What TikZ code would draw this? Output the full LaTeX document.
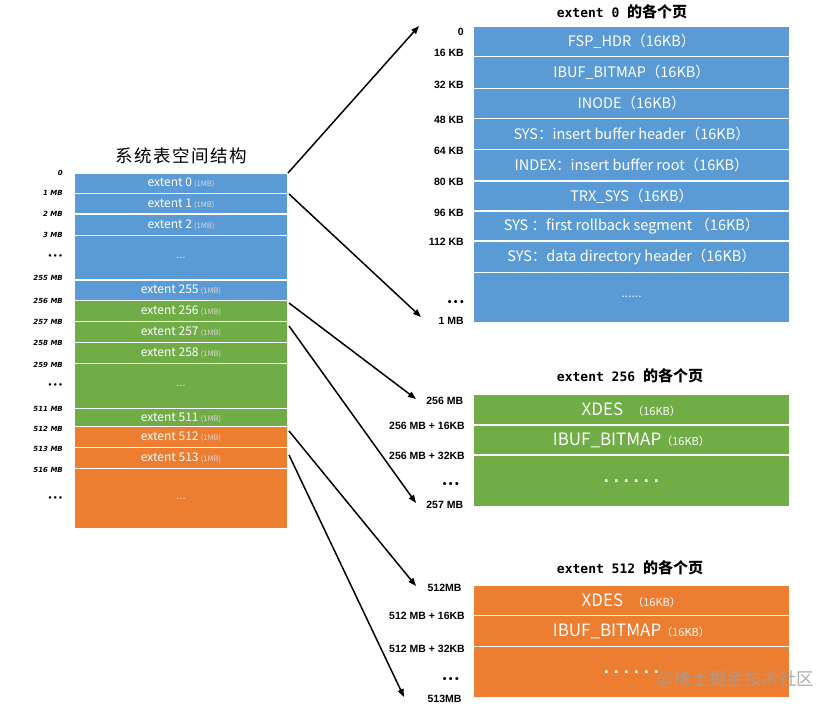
\documentclass[tikz,border=0pt]{standalone}
\usepackage{fontspec}
\setmainfont{Liberation Sans}
\newfontfamily\cjk{Noto Sans CJK SC}
\newfontfamily\monob{DejaVu Sans Mono}
\newfontfamily\dvs{DejaVu Sans}
\usetikzlibrary{arrows.meta}
\definecolor{cblue}{HTML}{5B9BD5}
\definecolor{cgreen}{HTML}{70AD47}
\definecolor{corange}{HTML}{ED7D31}
\newcommand\fs[1]{\fontsize{#1}{#1}\selectfont}
\newcommand\mkcell[7]{%
  \pgfmathsetmacro\cw{#4-#2}%
  \pgfmathsetmacro\chh{#5-#3}%
  \node[cellbox, fill=#6, minimum width=\cw pt, minimum height=\chh pt] (#1) at ({(#2+#4)/2},{(#3+#5)/2}) {#7};}
\newcommand\ext[1]{{\fs{12}extent #1} {\fs{7.5}\color{white!85!black}(1MB)}}
\newcommand\sdots[1]{{\fs{11}\color{white!70!#1}...}}
\newcommand\bdots{{\fontspec{Liberation Sans}\bfseries\fs{18}.\hspace{5pt}.\hspace{5pt}.\hspace{5pt}.\hspace{5pt}.\hspace{5pt}.}}
\newcommand\pg[1]{{\fs{14.5}#1}}
\newcommand\pgbig[1]{{\fs{17}#1}{\fs{11}（16KB）}}
\newcommand\llab[3]{\node[llabel] (#1) at (63,#2) {#3};}
\newcommand\rlab[4]{\node[rlabel] (#1) at (#2,#3) {#4};}
\newcommand\lbul{•\hspace{0.8pt}•\hspace{0.8pt}•}
\newcommand\rbul{•\hspace{2.5pt}•\hspace{2.5pt}•}
\begin{document}
\begin{tikzpicture}[x=1pt,y=-1pt,
  cellbox/.style={draw=white, line width=1.1pt, inner sep=0pt, text=white, font=\cjk},
  llabel/.style={anchor=east, inner sep=0pt, font=\dvs\bfseries\itshape\fs{7}},
  rlabel/.style={anchor=east, inner sep=0pt, font=\bfseries\fs{10.5}},
  ttl/.style={inner sep=0pt},
  arr/.style={-{Triangle[length=8pt,width=6pt]}, line width=1.5pt}]
\useasboundingbox[fill=white] (0,0) rectangle (824,711);

% ---- left column
\node[ttl, font=\cjk\fs{17.5}] (ltitle) at (181,156) {系\hspace{1.5pt}统\hspace{1.5pt}表\hspace{1.5pt}空\hspace{1.5pt}间\hspace{1.5pt}结\hspace{1.5pt}构};
\mkcell{L0}{74}{173}{288}{193.3}{cblue}{\ext{0}}
\mkcell{L1}{74}{193.3}{288}{214}{cblue}{\ext{1}}
\mkcell{L2}{74}{214}{288}{235.7}{cblue}{\ext{2}}
\mkcell{Ld1}{74}{235.7}{288}{280}{cblue}{\sdots{cblue}}
\mkcell{L255}{74}{280}{288}{300.7}{cblue}{\ext{255}}
\mkcell{L256}{74}{300.7}{288}{321.7}{cgreen}{\ext{256}}
\mkcell{L257}{74}{321.7}{288}{342.3}{cgreen}{\ext{257}}
\mkcell{L258}{74}{342.3}{288}{363.3}{cgreen}{\ext{258}}
\mkcell{Ld2}{74}{363.3}{288}{408.3}{cgreen}{\sdots{cgreen}}
\mkcell{L511}{74}{408.3}{288}{426.7}{cgreen}{\ext{511}}
\mkcell{L512}{74}{426.7}{288}{447.3}{corange}{\ext{512}}
\mkcell{L513}{74}{447.3}{288}{468.3}{corange}{\ext{513}}
\mkcell{Ld3}{74}{468.3}{288}{529}{corange}{\sdots{corange}}

\llab{l0}{172.7}{0}
\llab{l1}{193.3}{1 MB}
\llab{l2}{214}{2 MB}
\llab{l3}{235}{3 MB}
\llab{ld1}{256.7}{\lbul}
\llab{l255}{278.3}{255 MB}
\llab{l256}{300.7}{256 MB}
\llab{l257}{321.7}{257 MB}
\llab{l258}{343.3}{258 MB}
\llab{l259}{365}{259 MB}
\llab{ld2}{385.7}{\lbul}
\llab{l511}{409}{511 MB}
\llab{l512}{429.3}{512 MB}
\llab{l513}{449}{513 MB}
\llab{l516}{470}{516 MB}
\llab{ld3}{498.3}{\lbul}

% ---- extent 0
\node[ttl] (t0) at (622,12) {{\monob\bfseries\fs{13}extent 0 }{\cjk\bfseries\fs{15}的各个页}};
\mkcell{R0}{473.3}{26}{790}{56.7}{cblue}{\pg{FSP\_HDR（16KB）}}
\mkcell{R1}{473.3}{56.7}{790}{88.3}{cblue}{\pg{IBUF\_BITMAP（16KB）}}
\mkcell{R2}{473.3}{88.3}{790}{118.3}{cblue}{\pg{INODE（16KB）}}
\mkcell{R3}{473.3}{118.3}{790}{149.3}{cblue}{\pg{SYS：insert buffer header（16KB）}}
\mkcell{R4}{473.3}{149.3}{790}{181}{cblue}{\pg{INDEX：insert buffer root（16KB）}}
\mkcell{R5}{473.3}{181}{790}{211}{cblue}{\pg{TRX\_SYS（16KB）}}
\mkcell{R6}{473.3}{211}{790}{241}{cblue}{\pg{SYS ：first rollback segment （16KB）}}
\mkcell{R7}{473.3}{241}{790}{272.3}{cblue}{\pg{SYS：data directory header（16KB）}}
\mkcell{R8}{473.3}{272.3}{790}{322.3}{cblue}{{\fs{12}\color{white!85!cblue}......}}

\rlab{r0}{464}{31.7}{0}
\rlab{r1}{464}{53.3}{16 KB}
\rlab{r2}{464}{85}{32 KB}
\rlab{r3}{464}{120}{48 KB}
\rlab{r4}{464}{150.7}{64 KB}
\rlab{r5}{464}{182.3}{80 KB}
\rlab{r6}{464}{213.3}{96 KB}
\rlab{r7}{464}{241.7}{112 KB}
\rlab{rd}{464}{302.7}{\rbul}
\rlab{r8}{464}{320.7}{1 MB}

% ---- extent 256
\node[ttl] (t256) at (630,376) {{\monob\bfseries\fs{13}extent 256 }{\cjk\bfseries\fs{15}的各个页}};
\mkcell{G0}{473.3}{394.3}{789.3}{425}{cgreen}{\pgbig{XDES\hspace{9pt}}}
\mkcell{G1}{473.3}{425}{789.3}{455}{cgreen}{\pgbig{IBUF\_BITMAP}}
\mkcell{G2}{473.3}{455}{789.3}{506.7}{cgreen}{\bdots}
\rlab{g0}{463.3}{401}{256 MB}
\rlab{g1}{465}{426}{256 MB + 16KB}
\rlab{g2}{465}{456}{256 MB + 32KB}
\rlab{gd}{459}{485}{\rbul}
\rlab{g3}{463.3}{505}{257 MB}

% ---- extent 512
\node[ttl] (t512) at (630,568) {{\monob\bfseries\fs{13}extent 512 }{\cjk\bfseries\fs{15}的各个页}};
\mkcell{O0}{473.3}{585}{789.3}{615.7}{corange}{\pgbig{XDES\hspace{9pt}}}
\mkcell{O1}{473.3}{615.7}{789.3}{646.7}{corange}{\pgbig{IBUF\_BITMAP}}
\mkcell{O2}{473.3}{646.7}{789.3}{697.7}{corange}{\bdots}
\rlab{o0}{461.7}{588}{512MB}
\rlab{o1}{465}{616}{512 MB + 16KB}
\rlab{o2}{465}{649}{512 MB + 32KB}
\rlab{od}{459}{680}{\rbul}
\rlab{o3}{461.7}{699}{513MB}

% ---- arrows
\coordinate (a0s) at (288,173);   \coordinate (a0e) at (419,26);
\coordinate (a1s) at (289,194);   \coordinate (a1e) at (421,317);
\coordinate (a2s) at (289,303);   \coordinate (a2e) at (416,399);
\coordinate (a3s) at (289,326);   \coordinate (a3e) at (416,503);
\coordinate (a4s) at (289,431);   \coordinate (a4e) at (416,586);
\coordinate (a5s) at (289,455);   \coordinate (a5e) at (404,697);
\foreach \i in {0,...,5} \draw[arr] (a\i s) -- (a\i e);

% ---- watermark
\node[font=\cjk\fs{17.5}, text=gray!75!white, opacity=0.85, inner sep=0pt] (wm) at (736,680) {@稀土掘金技术社区};
\end{tikzpicture}
\end{document}
